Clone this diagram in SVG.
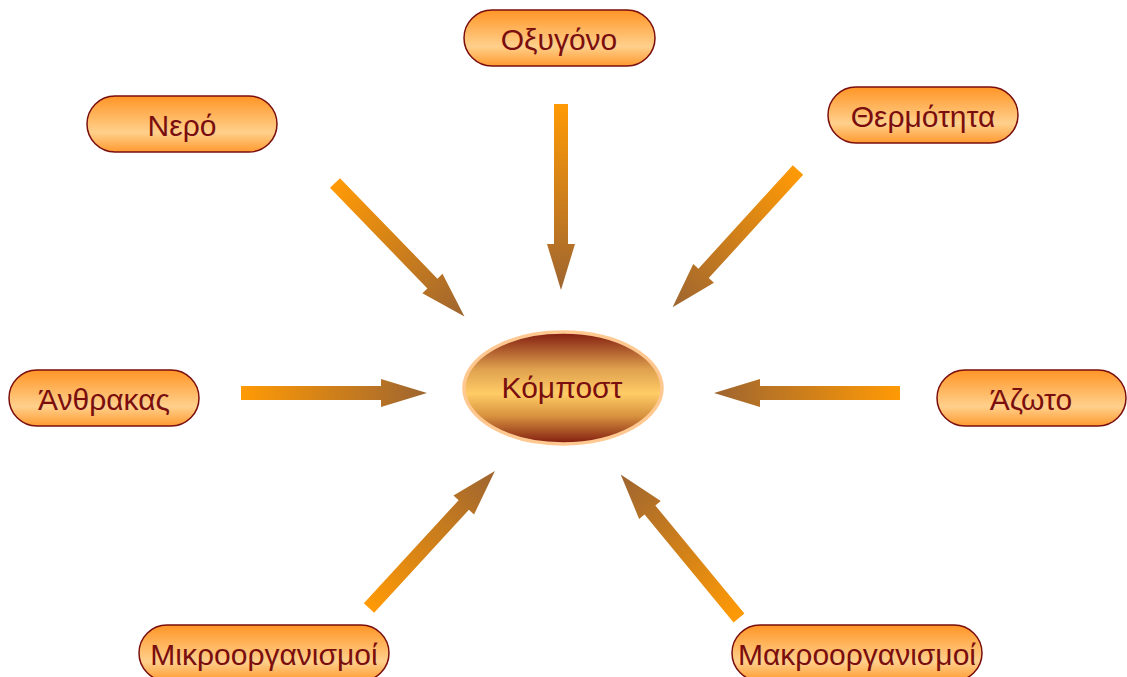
<svg xmlns="http://www.w3.org/2000/svg" width="1127" height="677" viewBox="0 0 1127 677">
<defs>
<linearGradient id="pill" x1="0" y1="0" x2="0" y2="1">
<stop offset="0" stop-color="#FF9526"/>
<stop offset="0.65" stop-color="#FFD08C"/>
<stop offset="1" stop-color="#FF9A30"/>
</linearGradient>
<linearGradient id="core" x1="0" y1="0" x2="0" y2="1">
<stop offset="0" stop-color="#801A0E"/>
<stop offset="0.33" stop-color="#DFA04E"/>
<stop offset="0.55" stop-color="#FFCC66"/>
<stop offset="0.75" stop-color="#D8923F"/>
<stop offset="1" stop-color="#801A0E"/>
</linearGradient>
<linearGradient id="arr" x1="0" y1="0" x2="1" y2="0">
<stop offset="0" stop-color="#FF9A05"/>
<stop offset="1" stop-color="#9E6530"/>
</linearGradient>
<path id="arrow" d="M0,-7 L140,-7 L140,-14 L186,0 L140,14 L140,7 L0,7 Z"/>
</defs>
<style>
.pill{fill:url(#pill);stroke:#7A0E0E;stroke-width:1.5}
.lbl{font-family:"Liberation Sans",Arial,sans-serif;font-size:30px;fill:#7A0E0E;text-anchor:middle;dominant-baseline:central}
.arrow{fill:url(#arr)}
</style>
<rect width="1127" height="677" fill="#FFFFFF"/>
<g id="connectors">
<use href="#arrow" class="arrow" transform="translate(561,104) rotate(90)"/>
<use href="#arrow" class="arrow" transform="translate(335,183) rotate(45.9)"/>
<use href="#arrow" class="arrow" transform="translate(798,170) rotate(132.4)"/>
<use href="#arrow" class="arrow" transform="translate(241,393)"/>
<use href="#arrow" class="arrow" transform="translate(900,393) rotate(180)"/>
<use href="#arrow" class="arrow" transform="translate(369,608) rotate(-47.4)"/>
<use href="#arrow" class="arrow" transform="translate(739,618) rotate(-129.5)"/>
</g>
<g id="node-oxygono"><rect class="pill" x="464" y="10" width="191" height="56" rx="28"/><text class="lbl" x="559" y="39">Οξυγόνο</text></g>
<g id="node-nero"><rect class="pill" x="87" y="96" width="190" height="56" rx="28"/><text class="lbl" x="182" y="125">Νερό</text></g>
<g id="node-thermotita"><rect class="pill" x="828" y="87" width="190" height="56" rx="28"/><text class="lbl" x="923" y="116">Θερμότητα</text></g>
<g id="node-anthrakas"><rect class="pill" x="9" y="370" width="190" height="56" rx="28"/><text class="lbl" x="104" y="399">Άνθρακας</text></g>
<g id="node-azoto"><rect class="pill" x="937" y="370" width="189" height="56" rx="28"/><text class="lbl" x="1031" y="399">Άζωτο</text></g>
<g id="node-mikro"><rect class="pill" x="139" y="625" width="250" height="56" rx="28"/><text class="lbl" x="264" y="654">Μικροοργανισμοί</text></g>
<g id="node-makro"><rect class="pill" x="732" y="625" width="250" height="56" rx="28"/><text class="lbl" x="857" y="654">Μακροοργανισμοί</text></g>
<g id="node-kompost"><ellipse cx="563" cy="388" rx="99" ry="56" fill="url(#core)" stroke="#FFC890" stroke-width="3.5"/><text class="lbl" x="562" y="387">Κόμποστ</text></g>
</svg>
